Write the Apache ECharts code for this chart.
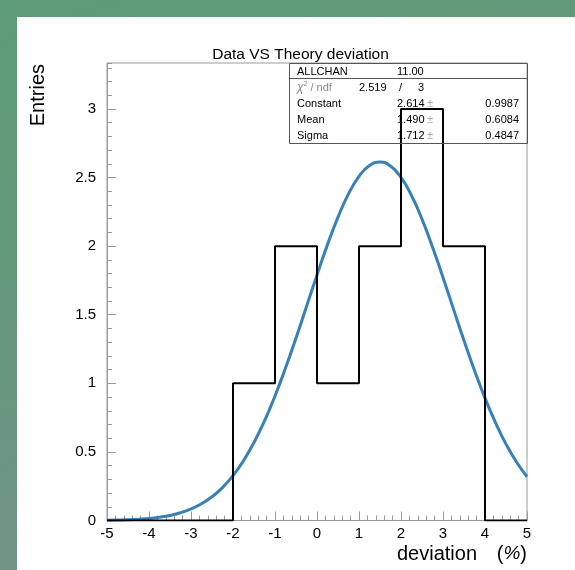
<!DOCTYPE html>
<html>
<head>
<meta charset="utf-8">
<script src="https://cdn.jsdelivr.net/npm/echarts@6/dist/echarts.min.js"></script>
<style>
html,body{margin:0;padding:0;}
#c{width:575px;height:570px;background:linear-gradient(160deg,#5c9c76 0%,#68977f 50%,#7a8f8b 100%);}
</style>
</head>
<body>
<div id="c"></div>
<script>
// Histogram bins (edges and counts)
var binEdges = [-5, -4, -3, -2, -1, 0, 1, 2, 3, 4, 5];
var binCounts = [0, 0, 0, 1, 2, 1, 2, 3, 2, 0];
// Fitted curve
var curveX = [-5, -4.75, -4.5, -4.25, -4, -3.75, -3.5, -3.25, -3, -2.75, -2.5, -2.25, -2, -1.75, -1.5, -1.25, -1, -0.75, -0.5, -0.25,
              0, 0.25, 0.5, 0.75, 1, 1.25, 1.5, 1.75, 2, 2.25, 2.5, 2.75, 3, 3.25, 3.5, 3.75, 4, 4.25, 4.5, 4.75, 5];
var curveY = [0.002, 0.003, 0.006, 0.010, 0.015, 0.024, 0.037, 0.057, 0.084, 0.122, 0.173, 0.240, 0.327, 0.436, 0.569, 0.726, 0.908, 1.111, 1.330, 1.560,
              1.790, 2.011, 2.211, 2.381, 2.509, 2.588, 2.614, 2.584, 2.501, 2.369, 2.197, 1.994, 1.772, 1.541, 1.312, 1.094, 0.892, 0.713, 0.557, 0.426, 0.319];
// Stats box
var statNames = ['Constant', 'Mean', 'Sigma'];
var statValues = ['2.614', '1.490', '1.712'];
var statErrors = ['0.9987', '0.6084', '0.4847'];
var entriesText = '11.00';
var chi2Text = '2.519';
var ndfText = '3';

var FONT = '"Liberation Sans", Arial, Helvetica, sans-serif';
var chart = echarts.init(document.getElementById('c'), null, {renderer: 'canvas'});

var histData = [];
for (var i = 0; i < binCounts.length; i++) histData.push([binEdges[i], binCounts[i]]);
histData.push([binEdges[binEdges.length - 1], 0]);
var curveData = curveX.map(function (x, i) { return [x, curveY[i]]; });

var Y_MAX = 3.335;
var axisGrey = '#9a9a9a';

var graphics = [
  {type: 'rect', z: -10, shape: {x: 17, y: 17, width: 560, height: 555}, style: {fill: '#ffffff'}},
  {type: 'text', x: 300.5, y: 55, style: {text: 'Data VS Theory deviation', font: '15.5px ' + FONT, fill: '#000', align: 'center', verticalAlign: 'middle'}},
  {type: 'text', x: 38.5, y: 64, rotation: Math.PI / 2, style: {text: 'Entries', font: '20px ' + FONT, fill: '#000', align: 'right', verticalAlign: 'middle'}},
  {type: 'text', x: 397, y: 554, style: {text: 'deviation', font: '20px ' + FONT, fill: '#000', align: 'left', verticalAlign: 'middle'}},
  {type: 'text', x: 527, y: 554, style: {rich: {p: {font: '20px ' + FONT, fill: '#000'}, q: {font: 'italic 19px ' + FONT, fill: '#000'}}, text: '{p|(}{q|%}{p|)}', align: 'right', verticalAlign: 'middle'}},
  // stats box
  {type: 'rect', z: 5, shape: {x: 289.5, y: 63.5, width: 238, height: 80}, style: {fill: 'none', stroke: '#555', lineWidth: 1}},
  {type: 'line', z: 5, shape: {x1: 289.5, y1: 78.5, x2: 527.5, y2: 78.5}, style: {stroke: '#555', lineWidth: 1}},
  {type: 'text', z: 6, x: 297, y: 71.5, style: {text: 'ALLCHAN', font: '11px ' + FONT, fill: '#000', verticalAlign: 'middle'}},
  {type: 'text', z: 6, x: 397, y: 71.5, style: {text: entriesText, font: '11px ' + FONT, fill: '#000', verticalAlign: 'middle'}},
  {type: 'text', z: 6, x: 297, y: 87.5, style: {rich: {c: {font: 'italic 12px ' + FONT, fill: '#888'}, s: {font: '7px ' + FONT, fill: '#888', verticalAlign: 'top', padding: [0, 0, 6, 0]}, n: {font: '11px ' + FONT, fill: '#888'}}, text: '{c|χ}{s|2}{n| / ndf}', verticalAlign: 'middle'}},
  {type: 'text', z: 6, x: 359, y: 87.5, style: {text: chi2Text, font: '11px ' + FONT, fill: '#000', verticalAlign: 'middle'}},
  {type: 'text', z: 6, x: 399, y: 87.5, style: {text: '/', font: '11px ' + FONT, fill: '#000', verticalAlign: 'middle'}},
  {type: 'text', z: 6, x: 418, y: 87.5, style: {text: ndfText, font: '11px ' + FONT, fill: '#000', verticalAlign: 'middle'}}
];
var rowY = [103.5, 119.5, 135.5];
for (var k = 0; k < statNames.length; k++) {
  graphics.push({type: 'text', z: 6, x: 297, y: rowY[k], style: {text: statNames[k], font: '11px ' + FONT, fill: '#000', verticalAlign: 'middle'}});
  graphics.push({type: 'text', z: 6, x: 397, y: rowY[k], style: {text: statValues[k], font: '11px ' + FONT, fill: '#000', verticalAlign: 'middle'}});
  graphics.push({type: 'text', z: 6, x: 427, y: rowY[k], style: {text: '±', font: '11px ' + FONT, fill: '#aaa', verticalAlign: 'middle'}});
  graphics.push({type: 'text', z: 6, x: 519, y: rowY[k], style: {text: statErrors[k], font: '11px ' + FONT, fill: '#000', align: 'right', verticalAlign: 'middle'}});
}

chart.setOption({
  backgroundColor: 'transparent',
  animation: false,
  grid: {left: 107, right: 48, top: 63, bottom: 49.5, show: true, borderColor: axisGrey, borderWidth: 1, backgroundColor: 'transparent'},
  xAxis: {
    type: 'value', min: -5, max: 5, interval: 1,
    axisLine: {show: true, onZero: false, lineStyle: {color: axisGrey}},
    axisTick: {show: true, inside: true, length: 9, lineStyle: {color: axisGrey}},
    minorTick: {show: true, splitNumber: 5, length: 5, lineStyle: {color: axisGrey}},
    splitLine: {show: false},
    axisLabel: {color: '#000', fontFamily: FONT, fontSize: 15, margin: 6}
  },
  yAxis: [{
    type: 'value', min: 0, max: Y_MAX, interval: 0.5, position: 'left',
    axisLine: {show: true, onZero: false, lineStyle: {color: axisGrey}},
    axisTick: {show: true, inside: true, length: 9, lineStyle: {color: axisGrey}},
    splitLine: {show: false},
    axisLabel: {color: '#000', fontFamily: FONT, fontSize: 15, margin: 11, showMaxLabel: false,
      formatter: function (v) { return Math.abs(v * 2 - Math.round(v * 2)) < 1e-6 ? String(v) : ''; }}
  }, {
    type: 'value', min: 0, max: Y_MAX, interval: 0.1, position: 'left', offset: 0,
    axisLine: {show: false, onZero: false},
    axisTick: {show: true, inside: true, length: 5, lineStyle: {color: axisGrey}},
    splitLine: {show: false},
    axisLabel: {show: false}
  }],
  graphic: graphics,
  series: [{
    type: 'line', data: curveData, smooth: true, showSymbol: false, symbol: 'none', z: 3,
    lineStyle: {color: '#3780b9', width: 3}
  }, {
    type: 'line', data: histData, step: 'end', showSymbol: false, symbol: 'none', z: 4,
    lineStyle: {color: '#000', width: 2}
  }]
});
</script>
</body>
</html>
